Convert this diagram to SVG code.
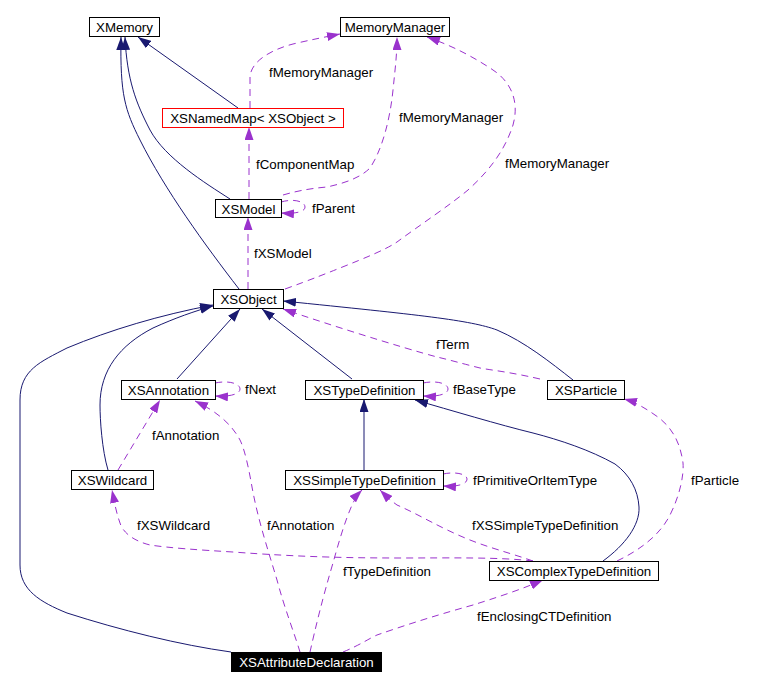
<svg xmlns="http://www.w3.org/2000/svg" width="773" height="689" viewBox="0 0 773 689">
<defs>
<marker id="ah" markerUnits="userSpaceOnUse" markerWidth="14" markerHeight="9" refX="13" refY="4.5" orient="auto" viewBox="0 0 14 9">
<path d="M0,0 L13,4.5 L0,9 Z" fill="#191970"/>
</marker>
<marker id="ap" markerUnits="userSpaceOnUse" markerWidth="14" markerHeight="9" refX="13" refY="4.5" orient="auto" viewBox="0 0 14 9">
<path d="M0,0 L13,4.5 L0,9 Z" fill="#9a32cd"/>
</marker>
<style>
.node rect{fill:#ffffff;stroke:#000000;stroke-width:1}
.node text{font-family:"Liberation Sans",Arial,sans-serif;font-size:13.3px;fill:#000000;text-anchor:middle}
.lbl{font-family:"Liberation Sans",Arial,sans-serif;font-size:13.3px;fill:#000000}
.inh{fill:none;stroke:#191970;stroke-width:1;marker-end:url(#ah)}
.use{fill:none;stroke:#9a32cd;stroke-width:1;stroke-dasharray:7,5;marker-end:url(#ap)}
</style>
</defs>
<rect width="773" height="689" fill="#ffffff"/>
<g id="connectors">
<path class="inh" d="M238,108 L138,37"/>
<path class="inh" d="M230,199 C205,183 165,158 150,130 C136,103 127,80 125,37"/>
<path class="inh" d="M239,289 C205,245 165,190 140,140 C125,110 120,95 121,37"/>
<path class="inh" d="M177,379 L240,309"/>
<path class="inh" d="M352,379 L262,309"/>
<path class="inh" d="M108,470 C102,450 100,420 100,405 C100,370 120,345 153,328 C175,318 195,311 213,306"/>
<path class="inh" d="M231,652 C180,645 120,630 67,613 C40,602 20,590 20,565 L20,400 C20,370 40,362 67,348 C110,330 160,315 213,305"/>
<path class="inh" d="M573,380 C550,362 525,342 497,330 C470,320 420,315 283,301"/>
<path class="inh" d="M364,470 L364,399"/>
<path class="inh" d="M603,561 C625,545 640,525 639,507 C638,490 630,475 615,464 C590,450 560,440 533,433 C500,425 450,410 415,400"/>
<path class="use" d="M250,108 L250,78 C250,62 270,50 293,44 C310,40 325,37 340,34"/>
<path class="use" d="M249,199 L249,127"/>
<path class="use" d="M283,195 C300,190 315,188 327,187 C345,183 360,178 370,168 C382,150 390,120 393,90 C395,70 397,55 397,37"/>
<path class="use" d="M281,202 C295,198 305,202 305,207 C305,212 295,214 281,213"/>
<path class="use" d="M248,289 L248,217"/>
<path class="use" d="M285,289 C310,280 330,272 340,268 C365,258 385,250 397,242 C420,225 450,205 468,190 C490,170 505,150 513,125 C520,100 510,80 490,68 C470,55 450,45 427,37"/>
<path class="use" d="M540,379 C510,372 490,370 480,368 C460,363 450,360 437,357 C400,347 330,325 283,309"/>
<path class="use" d="M215,383 C230,380 240,384 240,389 C240,394 230,397 215,396"/>
<path class="use" d="M423,383 C438,380 448,384 448,389 C448,394 438,397 423,396"/>
<path class="use" d="M118,470 L160,400"/>
<path class="use" d="M300,652 C295,635 285,610 277,580 C268,550 258,520 252,487 C249,470 245,450 240,440 C232,425 218,412 195,401"/>
<path class="use" d="M443,474 C458,471 467,475 467,479 C467,484 458,487 443,486"/>
<path class="use" d="M533,561 C510,553 490,548 470,540 C440,528 420,515 397,505 C390,500 385,495 380,490"/>
<path class="use" d="M617,561 C640,550 660,535 670,515 C680,495 684,475 683,463 C680,440 670,425 655,415 C645,408 635,402 624,399"/>
<path class="use" d="M533,561 C500,557 450,558 400,558 C350,558 300,557 233,552 C200,550 170,548 150,545 C130,540 122,530 120,523 C116,512 114,500 112,490"/>
<path class="use" d="M310,652 C315,630 322,600 333,563 C338,545 345,520 353,503 C356,497 359,493 362,490"/>
<path class="use" d="M343,652 C360,645 370,638 377,635 C400,627 430,617 473,605 C495,598 520,590 543,580"/>
<text class="lbl" x="269" y="77">fMemoryManager</text>
<text class="lbl" x="256" y="169">fComponentMap</text>
<text class="lbl" x="399" y="122">fMemoryManager</text>
<text class="lbl" x="505" y="168">fMemoryManager</text>
<text class="lbl" x="312" y="213">fParent</text>
<text class="lbl" x="254" y="258">fXSModel</text>
<text class="lbl" x="436" y="349">fTerm</text>
<text class="lbl" x="245" y="394">fNext</text>
<text class="lbl" x="453" y="394">fBaseType</text>
<text class="lbl" x="152" y="440">fAnnotation</text>
<text class="lbl" x="473" y="485">fPrimitiveOrItemType</text>
<text class="lbl" x="691" y="485">fParticle</text>
<text class="lbl" x="137" y="530">fXSWildcard</text>
<text class="lbl" x="267" y="530">fAnnotation</text>
<text class="lbl" x="472" y="530">fXSSimpleTypeDefinition</text>
<text class="lbl" x="343" y="576">fTypeDefinition</text>
<text class="lbl" x="477" y="621">fEnclosingCTDefinition</text>
</g>
<g id="XMemory" class="node"><rect x="89.5" y="17.5" width="70" height="19"/><text x="124.5" y="32">XMemory</text></g>
<g id="MemoryManager" class="node"><rect x="340.5" y="17.5" width="109" height="19"/><text x="395" y="32">MemoryManager</text></g>
<g id="XSNamedMap" class="node"><rect x="162.5" y="108.5" width="181" height="19" style="stroke:#ff0000"/><text x="253" y="123">XSNamedMap&lt; XSObject &gt;</text></g>
<g id="XSModel" class="node"><rect x="215.5" y="199.5" width="66" height="18"/><text x="248.5" y="214">XSModel</text></g>
<g id="XSObject" class="node"><rect x="213.5" y="289.5" width="70" height="19"/><text x="248.5" y="304">XSObject</text></g>
<g id="XSAnnotation" class="node"><rect x="121.5" y="380.5" width="94" height="19"/><text x="168.5" y="395">XSAnnotation</text></g>
<g id="XSTypeDefinition" class="node"><rect x="305.5" y="380.5" width="118" height="19"/><text x="364.5" y="395">XSTypeDefinition</text></g>
<g id="XSParticle" class="node"><rect x="547.5" y="380.5" width="77" height="19"/><text x="586" y="395">XSParticle</text></g>
<g id="XSWildcard" class="node"><rect x="71.5" y="470.5" width="82" height="19"/><text x="112.5" y="485">XSWildcard</text></g>
<g id="XSSimpleTypeDefinition" class="node"><rect x="285.5" y="470.5" width="158" height="19"/><text x="364.5" y="485">XSSimpleTypeDefinition</text></g>
<g id="XSComplexTypeDefinition" class="node"><rect x="489.5" y="561.5" width="169" height="19"/><text x="574" y="576">XSComplexTypeDefinition</text></g>
<g id="XSAttributeDeclaration" class="node"><rect x="231.5" y="652.5" width="150" height="19" style="fill:#000000"/><text x="306.5" y="667" style="fill:#ffffff">XSAttributeDeclaration</text></g>
</svg>
